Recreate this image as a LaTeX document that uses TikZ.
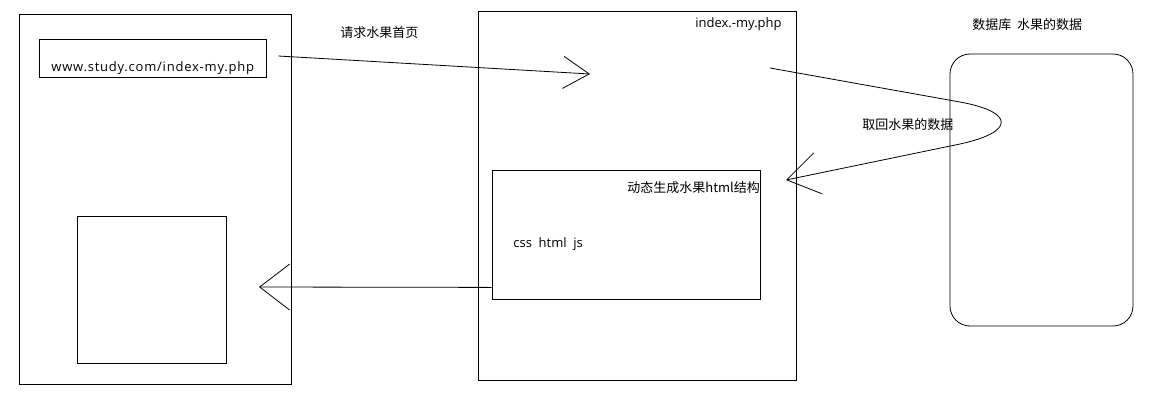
\documentclass[tikz,border=0pt]{standalone}
\usepackage{fontspec}
\setmainfont{Open Sans}
\newfontfamily\cjk{Noto Sans CJK SC}
\usetikzlibrary{arrows.meta,positioning}

\begin{document}
\begin{tikzpicture}[x=1pt, y=-1pt, line width=0.8pt,
 box/.style={draw, rectangle, inner sep=0pt},
 lbl/.style={inner sep=0pt, anchor=west, font=\fontsize{13}{15}\selectfont},
 cjklbl/.style={inner sep=0pt, anchor=west, font=\cjk\fontsize{13}{15}\selectfont}]
\useasboundingbox[fill=white] (0,0) rectangle (1169,413);
% browser side
\node[box, minimum width=272pt, minimum height=370pt] (client) at (155,199) {};
\node[box, minimum width=227pt, minimum height=38pt] (url) at (152.5,58) {};
\node[lbl] (urltext) at (51,68) {\addfontfeatures{LetterSpace=6}www.study.com/index-my.php};
\node[box, minimum width=149pt, minimum height=147pt] (view) at (151.5,289.5) {};
% server side
\node[box, minimum width=318pt, minimum height=369pt] (server) at (637,195.5) {};
\node[lbl] (servertext) at (695,24) {index.-my.php};
\node[box, minimum width=268pt, minimum height=129pt] (gen) at (626,234.5) {};
\node[cjklbl] (gentext) at (627,188) {动态生成水果html结构};
\node[lbl] (code) at (513,244) {css\ \ html\ \ js};
% database
\node[box, rounded corners=20pt, minimum width=183pt, minimum height=272pt] (db) at (1041.5,190) {};
\node[cjklbl] (dbtext) at (972,25) {数据库\ \ 水果的数据};

% connectors
\coordinate (reqend) at (590,74);
\coordinate (fetchstart) at (770,68);
\coordinate (fetchend) at (786,180);
\coordinate (viewend) at (259,287);
\draw[-{Straight Barb[length=26pt,width=32pt]}] ([shift={(12,-2)}]url.east) -- (reqend);
\node[cjklbl] (reqtext) at (340,33) {请求水果首页};
\draw[-{Straight Barb[length=32pt,width=42pt]}] (fetchstart) -- (960,102)
  .. controls (1015,112) and (1015,132) .. (960,144) -- (fetchend);
\node[cjklbl] (fetchtext) at (862,125) {取回水果的数据};
\draw[-{Straight Barb[length=30pt,width=46pt]}] ([yshift=12pt]gen.south west) -- (viewend);
\end{tikzpicture}
\end{document}
